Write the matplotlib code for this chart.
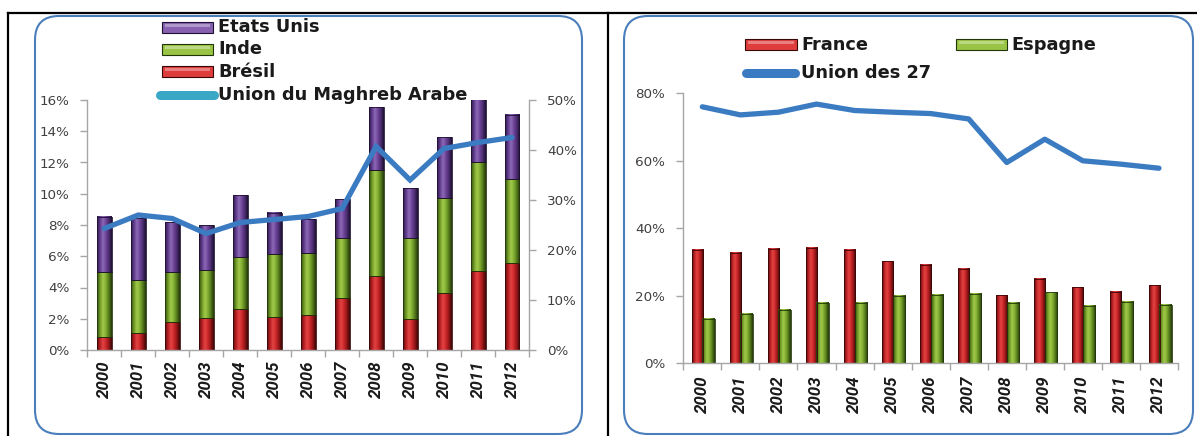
import numpy as np
import matplotlib
matplotlib.use("Agg")
import matplotlib.pyplot as plt
from matplotlib.patches import FancyBboxPatch, Rectangle
from matplotlib.lines import Line2D
from matplotlib.colors import LinearSegmentedColormap
from matplotlib.transforms import IdentityTransform
from matplotlib.ticker import PercentFormatter, FixedLocator

# ---------------- data ----------------
years = ["2000", "2001", "2002", "2003", "2004", "2005", "2006",
         "2007", "2008", "2009", "2010", "2011", "2012"]

# left chart (stacked, % ; left axis 0-16 %)
bresil = [0.85, 1.07, 1.77, 2.03, 2.62, 2.13, 2.26, 3.31, 4.76, 2.00, 3.67, 5.06, 5.59]
inde = [4.15, 3.41, 3.23, 3.09, 3.35, 3.99, 3.97, 3.88, 6.76, 5.19, 6.08, 6.99, 5.33]
etats_unis = [3.53, 3.95, 3.20, 2.88, 3.95, 2.67, 2.13, 2.47, 4.01, 3.20, 3.90, 4.35, 4.12]
# right axis 0-50 %
uma = [24.3, 27.0, 26.3, 23.3, 25.5, 26.1, 26.7, 28.3, 40.7, 34.0, 40.3, 41.5, 42.5]

# right chart (%)
france = [33.6, 32.6, 33.8, 34.3, 33.6, 30.2, 29.1, 27.9, 20.1, 25.0, 22.5, 21.1, 23.1]
espagne = [13.2, 14.7, 15.9, 18.0, 17.8, 20.0, 20.2, 20.6, 18.0, 21.0, 17.0, 18.3, 17.3]
ue27 = [76.0, 73.6, 74.4, 76.8, 74.9, 74.4, 74.0, 72.4, 59.5, 66.4, 60.0, 59.0, 57.8]

W, H = 1197, 436
TICK_COL = "#404040"
AX_COL = "#a6a6a6"
LINE_BLUE = "#3b7bc2"
LEG_CYAN = "#3ba7c7"

red_cmap = LinearSegmentedColormap.from_list(
    "r", ["#5a0c0d", "#b81f23", "#e44442", "#cc282b", "#921616", "#3c0707"])
green_cmap = LinearSegmentedColormap.from_list(
    "g", ["#334d0e", "#6f9a26", "#a3cc4c", "#80ad30", "#557a1c", "#22360a"])
purple_cmap = LinearSegmentedColormap.from_list(
    "p", ["#2e1a4a", "#5f3a8c", "#8f6bb8", "#6e4399", "#4a2c70", "#1e1030"])

grad = np.linspace(0, 1, 64).reshape(1, -1)


def shade_bars(ax, bars, cmap, edge, ymax):
    for b in bars:
        x0, y0 = b.get_x(), b.get_y()
        w, h = b.get_width(), b.get_height()
        top = min(y0 + h, ymax)
        ax.imshow(grad, cmap=cmap, aspect="auto", extent=(x0, x0 + w, y0, top),
                  interpolation="bicubic", zorder=b.get_zorder() + 0.1)
        b.set_facecolor("none")
        b.set_edgecolor(edge)
        b.set_linewidth(0.6)
        b.set_zorder(b.get_zorder() + 0.2)


def px_to_fig(x, y):
    return x / W, 1 - y / H


fig = plt.figure(figsize=(W / 100, H / 100), dpi=100)
fig.patch.set_facecolor("white")

# ---------------- frames ----------------
def rounded_box(x0, y0, x1, y1, r):
    p = FancyBboxPatch((x0, H - y1), x1 - x0, y1 - y0,
                       boxstyle=f"round,pad=0,rounding_size={r}",
                       transform=IdentityTransform(), facecolor="none",
                       edgecolor="#4a7ebb", linewidth=1.5, zorder=0)
    fig.patches.append(p)

rounded_box(35, 16, 582, 434, 24)
rounded_box(624, 16, 1193, 434, 24)

for (xa, ya, xb, yb) in [(8, 13, 1197, 13), (8, 13, 8, 436), (608, 13, 608, 436)]:
    fa = px_to_fig(xa, ya)
    fb = px_to_fig(xb, yb)
    fig.add_artist(Line2D([fa[0], fb[0]], [fa[1], fb[1]], color="black", lw=1.6,
                          transform=fig.transFigure))

YEAR_FONT = dict(family="Roboto", weight="bold", style="italic", size=12.2)
TICK_FONT_SIZE = 9.7
LEG_FONT = dict(family="DejaVu Sans", weight="bold", size=12.8, color="#1a1a1a")

x = np.arange(len(years))

# ---------------- left chart ----------------
l0, b0 = px_to_fig(87.3, 350)
l1, b1 = px_to_fig(529, 100)
ax = fig.add_axes([l0, b0, l1 - l0, b1 - b0])
ax.set_facecolor("none")
bw = 0.44
b_br = ax.bar(x, bresil, bw, zorder=2)
b_in = ax.bar(x, inde, bw, bottom=bresil, zorder=2)
bottom_us = np.array(bresil) + np.array(inde)
b_us = ax.bar(x, etats_unis, bw, bottom=bottom_us, zorder=2)
shade_bars(ax, b_br, red_cmap, "#3a0707", 16)
shade_bars(ax, b_in, green_cmap, "#22360a", 16)
shade_bars(ax, b_us, purple_cmap, "#1e1030", 16)

ax.set_xlim(-0.5, len(years) - 0.5)
ax.set_ylim(0, 16)
ax.set_yticks(np.arange(0, 17, 2))
ax.yaxis.set_major_formatter(PercentFormatter(decimals=0))
ax.set_xticks(x)
ax.set_xticklabels(years, rotation=90, ha="center", va="top", **YEAR_FONT)
ax.xaxis.set_minor_locator(FixedLocator(np.arange(-0.5, len(years), 1)))
ax.tick_params(axis="x", which="major", length=0, pad=7.5, colors="#1a1a1a")
ax.tick_params(axis="x", which="minor", length=5, width=1, color=AX_COL)
ax.tick_params(axis="y", length=5, width=1, color=AX_COL, labelcolor=TICK_COL,
               labelsize=TICK_FONT_SIZE, pad=8)
for s in ["top", "right"]:
    ax.spines[s].set_visible(False)
for s in ["left", "bottom"]:
    ax.spines[s].set_color(AX_COL)
    ax.spines[s].set_linewidth(1)

ax2 = ax.twinx()
ax2.plot(x, uma, color=LINE_BLUE, lw=3.8, solid_capstyle="round",
         solid_joinstyle="miter", zorder=3)
ax2.set_ylim(0, 50)
ax2.set_yticks(np.arange(0, 51, 10))
ax2.yaxis.set_major_formatter(PercentFormatter(decimals=0))
ax2.tick_params(axis="y", length=5, width=1, color=AX_COL, labelcolor=TICK_COL,
                labelsize=TICK_FONT_SIZE, pad=8)
for s in ["top", "left", "bottom"]:
    ax2.spines[s].set_visible(False)
ax2.spines["right"].set_color(AX_COL)
ax2.spines["right"].set_linewidth(1)
ax2.set_xlim(-0.5, len(years) - 0.5)

# ---------------- right chart ----------------
r0, rb0 = px_to_fig(683.3, 363.3)
r1, rb1 = px_to_fig(1178, 93.3)
axr = fig.add_axes([r0, rb0, r1 - r0, rb1 - rb0])
axr.set_facecolor("none")
b_fr = axr.bar(x - 0.13, france, 0.29, zorder=2)
b_es = axr.bar(x + 0.165, espagne, 0.33, zorder=2)
shade_bars(axr, b_fr, red_cmap, "#3a0707", 80)
shade_bars(axr, b_es, green_cmap, "#22360a", 80)
axr.plot(x, ue27, color=LINE_BLUE, lw=3.8, solid_capstyle="round", zorder=4)
axr.set_xlim(-0.5, len(years) - 0.5)
axr.set_ylim(0, 80)
axr.set_yticks(np.arange(0, 81, 20))
axr.yaxis.set_major_formatter(PercentFormatter(decimals=0))
axr.set_xticks(x)
axr.set_xticklabels(years, rotation=90, ha="center", va="top", **YEAR_FONT)
axr.xaxis.set_minor_locator(FixedLocator(np.arange(-0.5, len(years), 1)))
axr.tick_params(axis="x", which="major", length=0, pad=9, colors="#1a1a1a")
axr.tick_params(axis="x", which="minor", length=5, width=1, color=AX_COL)
axr.tick_params(axis="y", length=5, width=1, color=AX_COL, labelcolor=TICK_COL,
                labelsize=TICK_FONT_SIZE, pad=8)
for s in ["top", "right"]:
    axr.spines[s].set_visible(False)
for s in ["left", "bottom"]:
    axr.spines[s].set_color(AX_COL)
    axr.spines[s].set_linewidth(1)

# ---------------- legends (drawn in pixel space) ----------------
def leg_patch(x0, x1, yc, cmap, edge, h=11):
    p = Rectangle((x0, H - yc - h / 2), x1 - x0, h, transform=IdentityTransform(),
                  facecolor=cmap(0.45), edgecolor=edge, linewidth=0.8, zorder=5)
    fig.patches.append(p)
    hl = Rectangle((x0 + 3, H - yc + 0.5), x1 - x0 - 6, 3, transform=IdentityTransform(),
                   facecolor="white", alpha=0.35, edgecolor="none", zorder=6)
    fig.patches.append(hl)


def leg_line(x0, x1, yc, color):
    fa = px_to_fig(x0, yc)
    fb = px_to_fig(x1, yc)
    fig.add_artist(Line2D([fa[0], fb[0]], [fa[1], fb[1]], color=color, lw=6.5,
                          solid_capstyle="round", transform=fig.transFigure))


def leg_text(xp, yc, s):
    fx, fy = px_to_fig(xp, yc)
    fig.text(fx, fy, s, ha="left", va="center", **LEG_FONT)

# left legend
leg_patch(162, 213, 27.3, purple_cmap, "#1e1030")
leg_text(218, 27.3, "Etats Unis")
leg_patch(162, 213, 49.3, green_cmap, "#22360a")
leg_text(218, 49.3, "Inde")
leg_patch(162, 213, 71.7, red_cmap, "#3a0707")
leg_text(218, 71.7, "Brésil")
leg_line(160, 214, 95, LEG_CYAN)
leg_text(218, 95, "Union du Maghreb Arabe")

# right legend
leg_patch(745, 797, 44.5, red_cmap, "#3a0707")
leg_text(801, 44.5, "France")
leg_patch(956, 1007, 44.5, green_cmap, "#22360a")
leg_text(1011, 44.5, "Espagne")
leg_line(746, 795, 73.3, LINE_BLUE)
leg_text(801, 73.3, "Union des 27")

fig.savefig("out.png", dpi=100)
